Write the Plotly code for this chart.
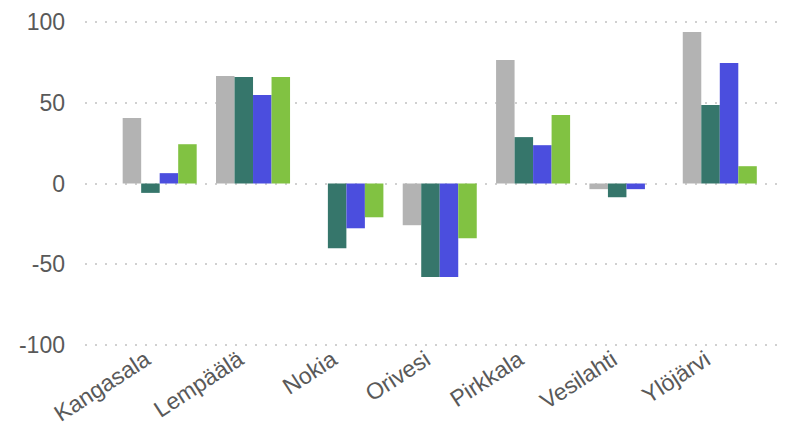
import plotly.graph_objects as go

categories = ["Kangasala", "Lempäälä", "Nokia", "Orivesi", "Pirkkala", "Vesilahti", "Ylöjärvi"]
series1 = [40.5, 66.5, None, -25.8, 76.4, -3.5, 93.7]
series2 = [-5.8, 65.9, -40.1, -57.9, 28.7, -8.5, 48.5]
series3 = [6.4, 54.7, -27.7, -57.9, 23.7, -3.5, 74.6]
series4 = [24.3, 65.9, -20.9, -33.9, 42.3, None, 10.7]
y_ticks = [-100, -50, 0, 50, 100]

colors = ["#B3B3B3", "#36766B", "#4B4EDE", "#81C242"]
series = [series1, series2, series3, series4]

fig = go.Figure()
for vals, col in zip(series, colors):
    fig.add_trace(go.Bar(x=categories, y=vals, marker=dict(color=col, line=dict(width=0)),
                         showlegend=False))

font = dict(family="Liberation Sans, Arial, sans-serif", size=23, color="#595959")
fig.update_layout(
    width=779, height=422,
    margin=dict(l=77, r=0, t=9, b=80),
    paper_bgcolor="white", plot_bgcolor="white",
    barmode="group", bargap=0.207, bargroupgap=0,
    font=font,
    showlegend=False,
)
fig.update_xaxes(range=[-0.80, 6.72], tickangle=-33, showgrid=False, zeroline=False,
                 showline=False, ticks="", tickfont=font, automargin=False,
                 ticklabelshift=-14, ticklabelstandoff=-9)
fig.update_yaxes(range=[-103, 103], tickvals=y_ticks, ticktext=[str(v) for v in y_ticks],
                 showgrid=True, gridcolor="#D0D0D0", gridwidth=2, griddash="2px,8px",
                 zeroline=False, showline=False, ticks="", ticklabelstandoff=19, tickfont=font,
                 automargin=False)

fig.write_html("out.html")
